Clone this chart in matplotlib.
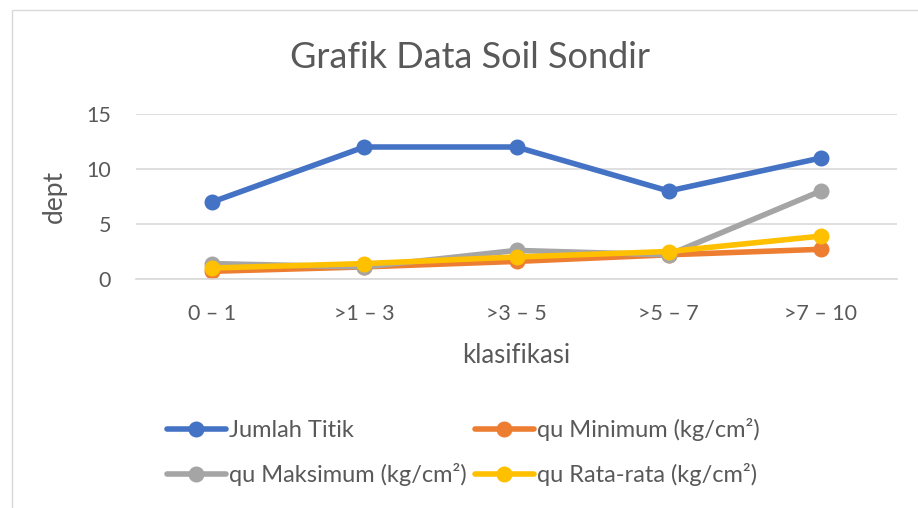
import matplotlib.pyplot as plt
from matplotlib.patches import Rectangle

# data
kategori = ["0 – 1", ">1 – 3", ">3 – 5", ">5 – 7", ">7 – 10"]
jumlah_titik = [7, 12, 12, 8, 11]
qu_minimum = [0.7, 1.1, 1.6, 2.2, 2.7]
qu_maksimum = [1.4, 1.1, 2.6, 2.2, 8.0]
qu_rata = [1.0, 1.4, 2.0, 2.5, 3.9]
y_ticks = [0, 5, 10, 15]

TEXT = "#595959"
GRID = "#D9D9D9"
plt.rcParams['font.family'] = ['Lato', 'DejaVu Sans']

fig = plt.figure(figsize=(9.18, 5.08), dpi=100)
# chart frame
fig.patches.append(Rectangle((12 / 918, -0.05), 1.2, 1 - 10 / 508 + 0.05,
                             transform=fig.transFigure, fill=False,
                             edgecolor="#D9D9D9", linewidth=1))

ax = fig.add_axes([136 / 918, 229 / 508, 761 / 918, 165 / 508])
x = list(range(len(kategori)))

series = [
    ("Jumlah Titik", jumlah_titik, "#4472C4"),
    ("qu Minimum (kg/cm²)", qu_minimum, "#ED7D31"),
    ("qu Maksimum (kg/cm²)", qu_maksimum, "#A5A5A5"),
    ("qu Rata-rata (kg/cm²)", qu_rata, "#FFC000"),
]
lines = {}
for name, vals, col in series:
    ln, = ax.plot(x, vals, color=col, linewidth=4, marker="o", markersize=10.5,
                  label=name, solid_capstyle="round")
    lines[name] = ln

ax.set_xlim(-0.5, len(kategori) - 0.5)
ax.set_ylim(0, 15)
ax.set_yticks(y_ticks)
ax.set_xticks(x)
ax.set_xticklabels(kategori)
ax.tick_params(length=0, labelsize=15.5, labelcolor=TEXT)
ax.tick_params(axis="x", pad=18)
ax.tick_params(axis="y", pad=18)
ax.grid(axis="y", color=GRID, linewidth=1.2)
ax.set_axisbelow(True)
for s in ["top", "right", "left"]:
    ax.spines[s].set_visible(False)
ax.spines["bottom"].set_color(GRID)
ax.spines["bottom"].set_linewidth(1.2)

ax.set_xlabel("klasifikasi", fontsize=18.5, color=TEXT, labelpad=14)
ax.set_ylabel("dept", fontsize=19, color=TEXT, labelpad=14)
fig.text(470 / 918, 1 - 57 / 508, "Grafik Data Soil Sondir", fontsize=26,
         color=TEXT, ha="center", va="center")

order = ["Jumlah Titik", "qu Maksimum (kg/cm²)", "qu Minimum (kg/cm²)", "qu Rata-rata (kg/cm²)"]
fig.legend([lines[n] for n in order], order, loc="upper left",
           bbox_to_anchor=(155 / 918, 1 - 406 / 508), ncol=2, frameon=False,
           fontsize=17, labelcolor=TEXT, handlelength=2.5, handletextpad=0.12,
           columnspacing=0.35, labelspacing=0.95, borderpad=0)

fig.savefig("out.png", dpi=100)
